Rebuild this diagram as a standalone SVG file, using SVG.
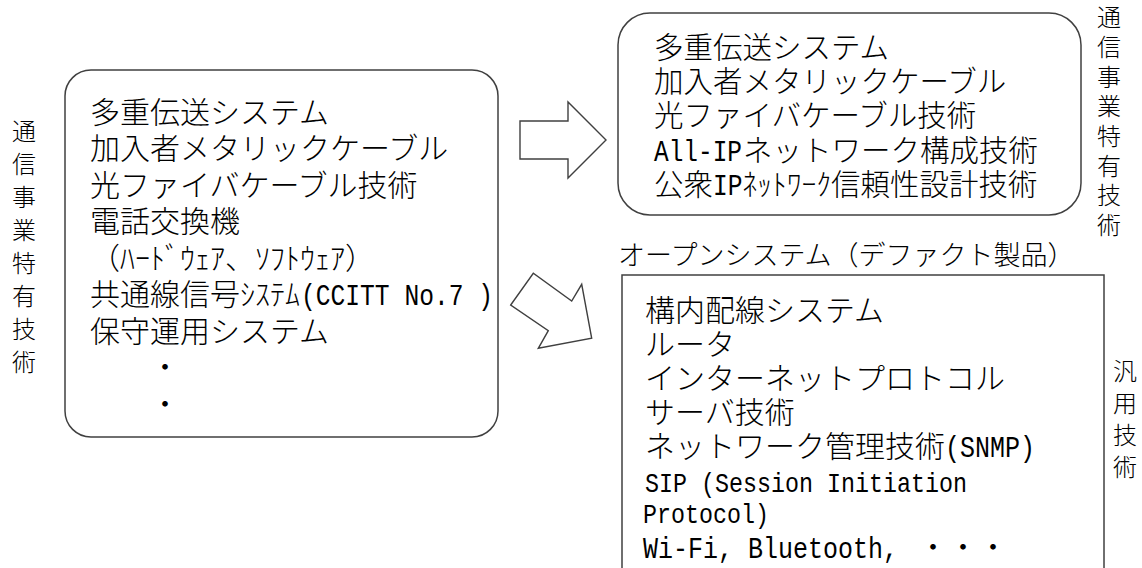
<svg xmlns="http://www.w3.org/2000/svg" width="1142" height="568" viewBox="0 0 1142 568">
<style>
.box{fill:none;stroke:#404040;stroke-width:1.5}
.arrow{fill:#fff;stroke:#404040;stroke-width:1.4;stroke-linejoin:miter}
.t{font-family:"Noto Sans CJK JP","Noto Sans CJK SC",sans-serif;fill:#000;font-weight:300}
.f30{font-size:30px}
.f295{font-size:29.5px}
.lab{font-size:24px;text-anchor:middle}
.lat{font-family:"Liberation Mono",monospace;font-weight:normal}
</style>
<rect x="0" y="0" width="1142" height="568" fill="#fff"/>

<g id="label-left">
<text class="t lab"><tspan x="24" y="140">通</tspan><tspan x="24" y="173">信</tspan><tspan x="24" y="206">事</tspan><tspan x="24" y="239">業</tspan><tspan x="24" y="272">特</tspan><tspan x="24" y="305">有</tspan><tspan x="24" y="338">技</tspan><tspan x="24" y="371">術</tspan></text>
</g>

<g id="node-left">
<rect class="box" x="65" y="70" width="433" height="367" rx="26" ry="26"/>
<text class="t f30" x="90" y="123">多重伝送システム</text>
<text class="t f30" x="90" y="159">加入者メタリックケーブル</text>
<text class="t f30" x="90" y="196">光ファイバケーブル技術</text>
<text class="t f30" x="90" y="232">電話交換機</text>
<text class="t f30" x="90" y="269">（ﾊｰﾄﾞｳｪｱ、ｿﾌﾄｳｪｱ）</text>
<text class="t f30" x="90" y="305">共通線信号ｼｽﾃﾑ <tspan class="lat" x="301" textLength="192" lengthAdjust="spacingAndGlyphs">(CCITT No.7 )</tspan></text>
<text class="t f30" x="90" y="342">保守運用システム</text>
<text class="t f30" x="150" y="378">・</text>
<text class="t f30" x="150" y="415">・</text>
</g>

<g id="node-top-right">
<rect class="box" x="618" y="13" width="463" height="202" rx="32" ry="32"/>
<text class="t f295" x="654" y="58">多重伝送システム</text>
<text class="t f295" x="654" y="92">加入者メタリックケーブル</text>
<text class="t f295" x="654" y="126">光ファイバケーブル技術</text>
<text class="t f295" x="654" y="161"><tspan class="lat" textLength="88" lengthAdjust="spacingAndGlyphs">All-IP</tspan><tspan x="743">ネットワーク構成技術</tspan></text>
<text class="t f295" x="654" y="195">公衆<tspan class="lat" x="713" textLength="29.5" lengthAdjust="spacingAndGlyphs">IP</tspan><tspan x="742.5">ﾈｯﾄﾜｰｸ信頼性設計技術</tspan></text>
</g>

<g id="label-right-top">
<text class="t lab"><tspan x="1109" y="26">通</tspan><tspan x="1109" y="56">信</tspan><tspan x="1109" y="86">事</tspan><tspan x="1109" y="115">業</tspan><tspan x="1109" y="145">特</tspan><tspan x="1109" y="175">有</tspan><tspan x="1109" y="204">技</tspan><tspan x="1109" y="234">術</tspan></text>
</g>

<g id="node-bottom-right">
<text class="t" font-size="27" x="618" y="265">オープンシステム（デファクト製品）</text>
<rect class="box" x="622" y="275" width="482" height="320"/>
<text class="t f30" x="645" y="321">構内配線システム</text>
<text class="t f30" x="645" y="355">ルータ</text>
<text class="t f30" x="645" y="389">インターネットプロトコル</text>
<text class="t f30" x="645" y="423">サーバ技術</text>
<text class="t f30" x="645" y="457">ネットワーク管理技術<tspan class="lat" x="945" textLength="90" lengthAdjust="spacingAndGlyphs">(SNMP)</tspan></text>
<text class="t lat" font-size="28" x="645" y="492" textLength="322" lengthAdjust="spacingAndGlyphs">SIP (Session Initiation</text>
<text class="t lat" font-size="28" x="643" y="523" textLength="126" lengthAdjust="spacingAndGlyphs">Protocol)</text>
<text class="t f30" x="643" y="558"><tspan class="lat" textLength="255" lengthAdjust="spacingAndGlyphs">Wi-Fi, Bluetooth,</tspan> <tspan x="918">・・・</tspan></text>
</g>

<g id="label-right-bottom">
<text class="t lab"><tspan x="1125" y="380">汎</tspan><tspan x="1125" y="412">用</tspan><tspan x="1125" y="444">技</tspan><tspan x="1125" y="476">術</tspan></text>
</g>

<g id="connectors">
<path class="arrow" d="M520,121 H568 V102 L606,140 L568,178 V159 H520 Z"/>
<path class="arrow" d="M510.7,305 L533.3,273.3 L571.7,301 L581.7,284.3 L591.7,338.3 L538.3,348.3 L548.3,330.7 Z"/>
</g>
</svg>
